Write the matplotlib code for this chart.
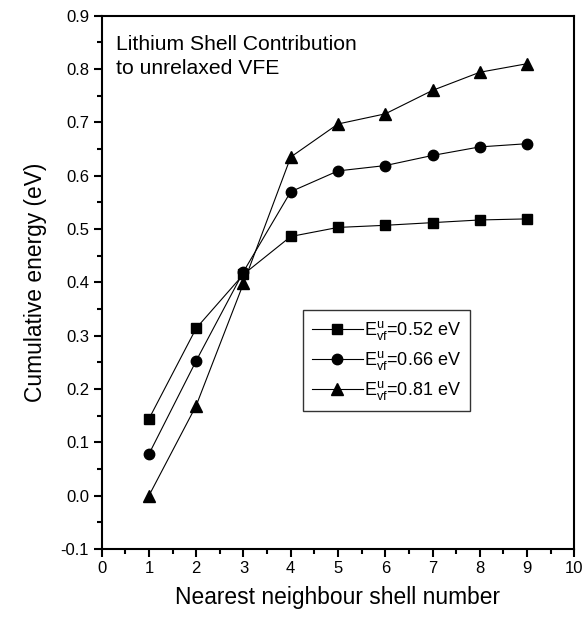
import matplotlib
matplotlib.use("Agg")
import matplotlib.pyplot as plt
from matplotlib.ticker import MultipleLocator, FormatStrFormatter

plt.rcParams['font.family'] = ['Liberation Sans', 'DejaVu Sans']
plt.rcParams['mathtext.default'] = 'regular'

# Cumulative energy per nearest-neighbour shell
shells = [1, 2, 3, 4, 5, 6, 7, 8, 9]
e_052 = [0.144, 0.314, 0.415, 0.486, 0.503, 0.507, 0.512, 0.517, 0.519]
e_066 = [0.078, 0.253, 0.420, 0.570, 0.609, 0.619, 0.638, 0.654, 0.660]
e_081 = [0.000, 0.169, 0.398, 0.635, 0.697, 0.716, 0.760, 0.794, 0.810]

labels = [r'E$^{u}_{vf}$=0.52 eV', r'E$^{u}_{vf}$=0.66 eV', r'E$^{u}_{vf}$=0.81 eV']

fig = plt.figure(figsize=(5.82, 6.19), dpi=100)
ax = fig.add_axes([0.1747, 0.1131, 0.8121, 0.8615])

kw = dict(color='black', lw=0.8, mfc='black', mec='black')
ax.plot(shells, e_052, marker='s', ms=7, label=labels[0], **kw)
ax.plot(shells, e_066, marker='o', ms=7.5, label=labels[1], **kw)
ax.plot(shells, e_081, marker='^', ms=8, label=labels[2], **kw)

ax.set_xlim(0, 10)
ax.set_ylim(-0.1, 0.9)
ax.xaxis.set_major_locator(MultipleLocator(1))
ax.xaxis.set_minor_locator(MultipleLocator(0.5))
ax.yaxis.set_major_locator(MultipleLocator(0.1))
ax.yaxis.set_minor_locator(MultipleLocator(0.05))
ax.yaxis.set_major_formatter(FormatStrFormatter('%.1f'))

for s in ax.spines.values():
    s.set_linewidth(1.5)
ax.tick_params(which='major', direction='out', length=6, width=1.5, labelsize=12, pad=3)
ax.tick_params(which='minor', direction='out', length=3.3, width=1.5)

ax.set_xlabel('Nearest neighbour shell number', fontsize=16.4, labelpad=7)
ax.set_ylabel('Cumulative energy (eV)', fontsize=16.4, labelpad=10)

ax.text(0.031, 0.963, 'Lithium Shell Contribution\nto unrelaxed VFE',
        transform=ax.transAxes, ha='left', va='top', fontsize=15.2, linespacing=1.32)

leg = ax.legend(loc='upper left', bbox_to_anchor=(0.426, 0.448), borderaxespad=0,
                fontsize=13, frameon=True, fancybox=False, edgecolor='black',
                handlelength=2.8, handletextpad=0.1, borderpad=0.5, labelspacing=0.38)
leg.get_frame().set_linewidth(1.0)

fig.savefig('out.png', dpi=100)
